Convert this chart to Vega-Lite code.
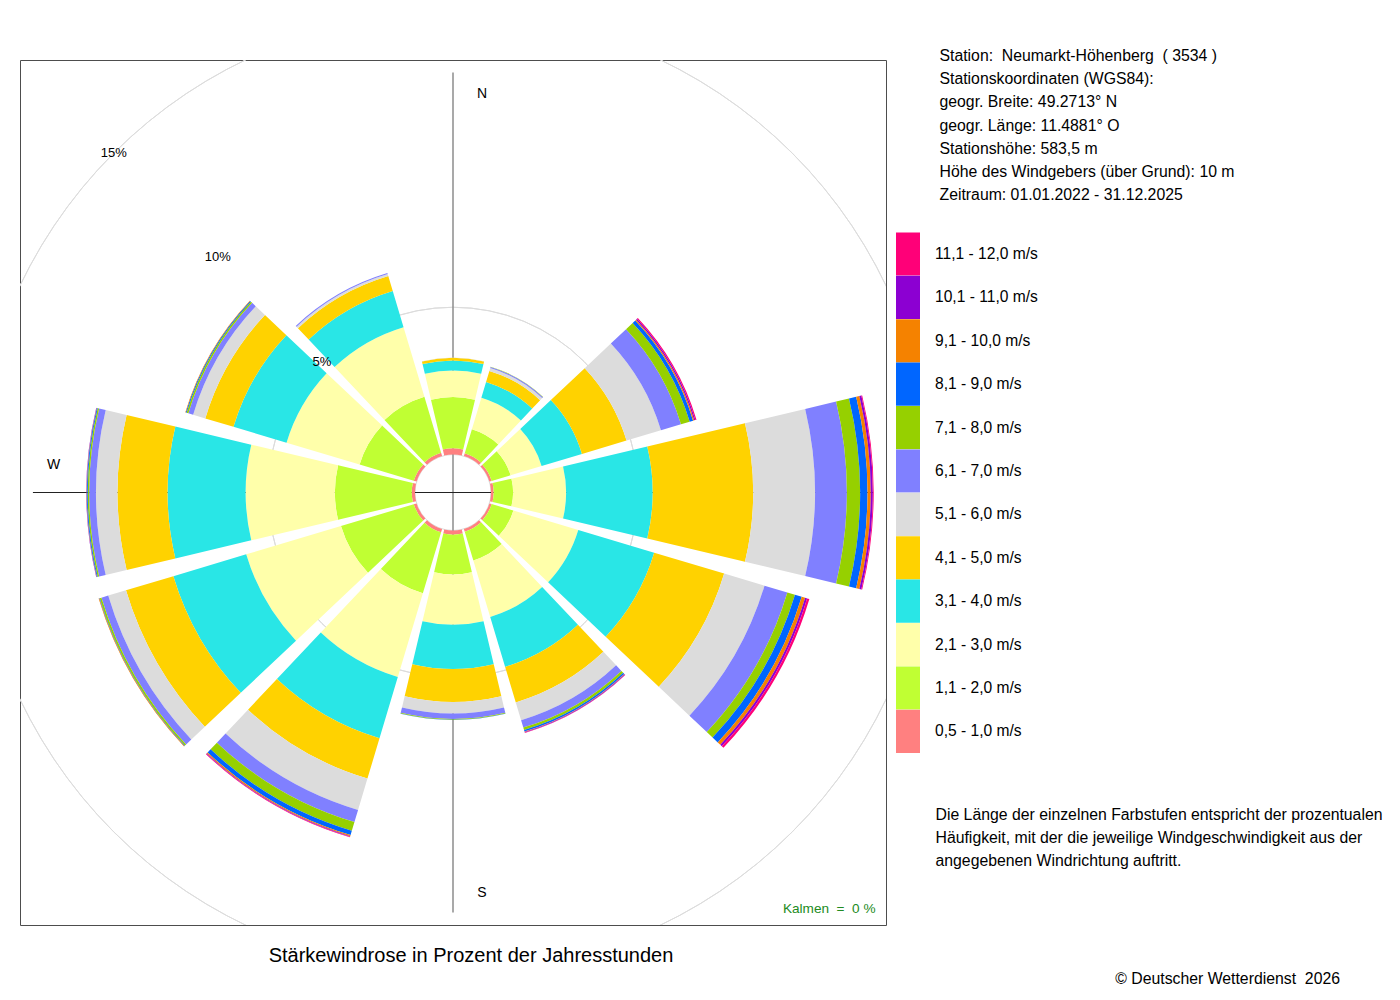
{
  "$schema": "https://vega.github.io/schema/vega-lite/v6.json",
  "width": 866,
  "height": 865,
  "autosize": "none",
  "padding": {"left": 20, "top": 60, "right": 514, "bottom": 75},
  "background": "white",
  "config": {
    "font": "Liberation Sans",
    "view": {"stroke": "#4d4d4d", "strokeWidth": 1},
    "text": {"font": "Liberation Sans", "color": "black"}
  },
  "title": {
    "text": "© Deutscher Wetterdienst\u00a0 2026",
    "orient": "bottom",
    "anchor": "end",
    "frame": "group",
    "dx": 454,
    "dy": -34,
    "offset": 40,
    "fontSize": 15.8,
    "fontWeight": "normal",
    "color": "black"
  },
  "datasets": {
    "rose": [
      {"dir": 0,   "c01": 0.21, "c02": 1.74, "c03": 0.90, "c04": 0.34, "c05": 0.09, "c06": 0.01, "c07": 0,    "c08": 0,    "c09": 0,    "c10": 0,    "c11": 0,    "c12": 0},
      {"dir": 30,  "c01": 0.10, "c02": 0.85, "c03": 1.12, "c04": 0.56, "c05": 0.39, "c06": 0.10, "c07": 0.04, "c08": 0.01, "c09": 0,    "c10": 0,    "c11": 0,    "c12": 0},
      {"dir": 60,  "c01": 0.08, "c02": 0.67, "c03": 1.10, "c04": 1.43, "c05": 1.58, "c06": 1.22, "c07": 0.71, "c08": 0.31, "c09": 0.12, "c10": 0.04, "c11": 0.04, "c12": 0.04},
      {"dir": 90,  "c01": 0.09, "c02": 0.66, "c03": 1.80, "c04": 2.94, "c05": 3.41, "c06": 2.10, "c07": 1.08, "c08": 0.45, "c09": 0.25, "c10": 0.11, "c11": 0.07, "c12": 0.03},
      {"dir": 120, "c01": 0.08, "c02": 0.77, "c03": 2.30, "c04": 2.69, "c05": 2.48, "c06": 1.43, "c07": 0.81, "c08": 0.27, "c09": 0.24, "c10": 0.12, "c11": 0.07, "c12": 0.08},
      {"dir": 150, "c01": 0.10, "c02": 1.02, "c03": 2.00, "c04": 1.77, "c05": 1.26, "c06": 0.63, "c07": 0.26, "c08": 0.09, "c09": 0.05, "c10": 0.02, "c11": 0.02, "c12": 0.01},
      {"dir": 180, "c01": 0.14, "c02": 1.35, "c03": 1.71, "c04": 1.50, "c05": 1.12, "c06": 0.39, "c07": 0.19, "c08": 0.02, "c09": 0.01, "c10": 0,    "c11": 0,    "c12": 0},
      {"dir": 210, "c01": 0.12, "c02": 2.16, "c03": 2.97, "c04": 2.17, "c05": 1.43, "c06": 1.11, "c07": 0.43, "c08": 0.31, "c09": 0.15, "c10": 0.04, "c11": 0.02, "c12": 0.02},
      {"dir": 240, "c01": 0.10, "c02": 2.58, "c03": 3.36, "c04": 2.58, "c05": 1.68, "c06": 0.63, "c07": 0.24, "c08": 0.06, "c09": 0.02, "c10": 0.02, "c11": 0,    "c12": 0},
      {"dir": 270, "c01": 0.11, "c02": 2.61, "c03": 3.03, "c04": 2.65, "c05": 1.70, "c06": 0.73, "c07": 0.23, "c08": 0.05, "c09": 0.03, "c10": 0.01, "c11": 0.01, "c12": 0},
      {"dir": 300, "c01": 0.10, "c02": 1.92, "c03": 2.59, "c04": 1.88, "c05": 1.00, "c06": 0.43, "c07": 0.17, "c08": 0.06, "c09": 0.03, "c10": 0.02, "c11": 0,    "c12": 0},
      {"dir": 330, "c01": 0.12, "c02": 1.98, "c03": 2.47, "c04": 1.28, "c05": 0.53, "c06": 0.07, "c07": 0.04, "c08": 0,    "c09": 0,    "c10": 0,    "c11": 0,    "c12": 0}
    ],
    "classes": [
      {"cls": "c01", "speed": "0,5 - 1,0 m/s"},
      {"cls": "c02", "speed": "1,1 - 2,0 m/s"},
      {"cls": "c03", "speed": "2,1 - 3,0 m/s"},
      {"cls": "c04", "speed": "3,1 - 4,0 m/s"},
      {"cls": "c05", "speed": "4,1 - 5,0 m/s"},
      {"cls": "c06", "speed": "5,1 - 6,0 m/s"},
      {"cls": "c07", "speed": "6,1 - 7,0 m/s"},
      {"cls": "c08", "speed": "7,1 - 8,0 m/s"},
      {"cls": "c09", "speed": "8,1 - 9,0 m/s"},
      {"cls": "c10", "speed": "9,1 - 10,0 m/s"},
      {"cls": "c11", "speed": "10,1 - 11,0 m/s"},
      {"cls": "c12", "speed": "11,1 - 12,0 m/s"}
    ]
  },
  "layer": [
    {
      "data": {"values": [{"pct": 5}, {"pct": 10}, {"pct": 15}]},
      "mark": {"type": "arc", "filled": false, "stroke": "#dcdcdc", "strokeWidth": 1, "clip": true},
      "encoding": {
        "theta": {"datum": 0, "type": "quantitative", "scale": {"domain": [0, 360]}},
        "theta2": {"datum": 360},
        "radius": {
          "field": "pct",
          "type": "quantitative",
          "scale": {"type": "linear", "domain": [0, 15], "range": [38, 479.75]}
        }
      }
    },
    {
      "data": {"values": [{"x": 0, "y": -13, "y2": 13}]},
      "mark": {"type": "rule", "color": "#8c8c8c", "strokeWidth": 1.5},
      "encoding": {
        "x": {
          "field": "x",
          "type": "quantitative",
          "scale": {"domain": [-13.4, 13.4]},
          "axis": {
            "orient": "bottom", "domain": false, "ticks": false, "labels": false, "grid": false,
            "title": "Stärkewindrose in Prozent der Jahresstunden",
            "titleX": 450.5, "titleY": 36.5, "titleAlign": "center", "titleBaseline": "alphabetic",
            "titleFontSize": 20, "titleFontWeight": "normal", "titleColor": "black", "titleFont": "Liberation Sans"
          }
        },
        "y": {
          "field": "y",
          "type": "quantitative",
          "scale": {"domain": [-13.387, 13.387]},
          "axis": {
            "orient": "left", "domain": false, "ticks": false, "labels": false, "grid": false,
            "title": "Kalmen\u00a0 =\u00a0 0 %",
            "titleAngle": 0, "titleX": 855, "titleY": 852.5, "titleAlign": "right", "titleBaseline": "alphabetic",
            "titleFontSize": 13.6, "titleFontWeight": "normal", "titleColor": "#228b22", "titleFont": "Liberation Sans"
          }
        },
        "y2": {"field": "y2"}
      }
    },
    {
      "data": {"values": [{"x": -13, "x2": 13, "y": 0}]},
      "mark": {"type": "rule", "color": "#222222", "strokeWidth": 1},
      "encoding": {
        "x": {
          "field": "x",
          "type": "quantitative",
          "scale": {"domain": [-13.4, 13.4]},
          "axis": {
            "orient": "top", "domain": false, "ticks": false, "labels": false, "grid": false,
            "title": [
              "Station:\u00a0 Neumarkt-Höhenberg\u00a0 ( 3534 )",
              "Stationskoordinaten (WGS84):",
              "geogr. Breite: 49.2713° N",
              "geogr. Länge: 11.4881° O",
              "Stationshöhe: 583,5 m",
              "Höhe des Windgebers (über Grund): 10 m",
              "Zeitraum: 01.01.2022 - 31.12.2025"
            ],
            "titleX": 919, "titleY": 0.5, "titleAlign": "left", "titleBaseline": "alphabetic", "titleLineHeight": 23.2,
            "titleFontSize": 15.8, "titleFontWeight": "normal", "titleColor": "black", "titleFont": "Liberation Sans"
          }
        },
        "x2": {"field": "x2"},
        "y": {
          "field": "y",
          "type": "quantitative",
          "scale": {"domain": [-13.387, 13.387]},
          "axis": {
            "orient": "right", "domain": false, "ticks": false, "labels": false, "grid": false,
            "title": [
              "Die Länge der einzelnen Farbstufen entspricht der prozentualen",
              "Häufigkeit, mit der die jeweilige Windgeschwindigkeit aus der",
              "angegebenen Windrichtung auftritt."
            ],
            "titleAngle": 0, "titleX": 49, "titleY": 759.5, "titleAlign": "left", "titleBaseline": "alphabetic", "titleLineHeight": 23,
            "titleFontSize": 15.8, "titleFontWeight": "normal", "titleColor": "black", "titleFont": "Liberation Sans"
          }
        }
      }
    },
    {
      "data": {"name": "rose"},
      "transform": [
        {"fold": ["c01", "c02", "c03", "c04", "c05", "c06", "c07", "c08", "c09", "c10", "c11", "c12"], "as": ["cls", "pct"]},
        {"lookup": "cls", "from": {"data": {"name": "classes"}, "key": "cls", "fields": ["speed"]}},
        {"stack": "pct", "groupby": ["dir"], "sort": [{"field": "cls", "order": "ascending"}], "as": ["r0", "r1"]}
      ],
      "mark": {"type": "arc", "thetaOffset": -0.233, "theta2Offset": 0.233},
      "encoding": {
        "theta": {"field": "dir", "type": "quantitative", "stack": null},
        "theta2": {"field": "dir"},
        "radius": {"field": "r1", "type": "quantitative"},
        "radius2": {"field": "r0"},
        "color": {
          "field": "speed",
          "type": "nominal",
          "scale": {
            "domain": [
              "11,1 - 12,0 m/s", "10,1 - 11,0 m/s", "9,1 - 10,0 m/s", "8,1 - 9,0 m/s",
              "7,1 - 8,0 m/s", "6,1 - 7,0 m/s", "5,1 - 6,0 m/s", "4,1 - 5,0 m/s",
              "3,1 - 4,0 m/s", "2,1 - 3,0 m/s", "1,1 - 2,0 m/s", "0,5 - 1,0 m/s"
            ],
            "range": [
              "#ff0078", "#8c00d2", "#f58200", "#0066ff",
              "#96d000", "#8080ff", "#dcdcdc", "#ffd200",
              "#29e6e6", "#ffffaa", "#c0ff33", "#ff8080"
            ]
          },
          "legend": {
            "orient": "none", "legendX": 876, "legendY": 182, "title": null, "padding": 0,
            "symbolType": "M-1,-1.8H1V1.8H-1Z", "symbolSize": 576, "symbolStrokeWidth": 0, "symbolOpacity": 1,
            "rowPadding": -0.6, "labelOffset": 15, "labelFontSize": 15.6, "labelColor": "black", "labelFont": "Liberation Sans",
            "labelLimit": 300
          }
        }
      }
    },
    {
      "data": {"values": [{"label": "N", "dir": 0}, {"label": "S", "dir": 180}]},
      "mark": {"type": "text", "dx": 29, "dy": 1, "fontSize": 14},
      "encoding": {
        "theta": {"field": "dir", "type": "quantitative"},
        "radius": {"datum": 12.27},
        "text": {"field": "label"}
      }
    },
    {
      "data": {"values": [{"label": "W", "dir": 270}]},
      "mark": {"type": "text", "dy": -28, "fontSize": 14},
      "encoding": {
        "theta": {"field": "dir", "type": "quantitative"},
        "radius": {"datum": 12.27},
        "text": {"field": "label"}
      }
    },
    {
      "data": {"values": [{"pct": 5, "label": "5%"}, {"pct": 10, "label": "10%"}, {"pct": 15, "label": "15%"}]},
      "mark": {"type": "text", "fontSize": 13},
      "encoding": {
        "theta": {"datum": 315},
        "radius": {"field": "pct", "type": "quantitative"},
        "text": {"field": "label"}
      }
    }
  ],
  "resolve": {
    "scale": {"x": "independent", "y": "independent"},
    "axis": {"x": "independent", "y": "independent"}
  }
}
